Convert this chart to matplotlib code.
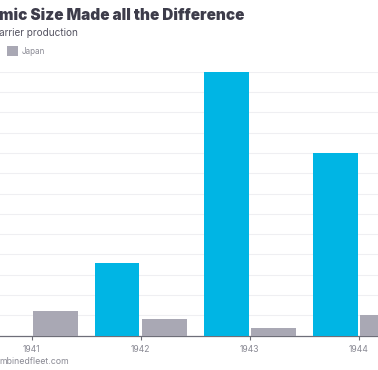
import matplotlib
matplotlib.use("Agg")
import matplotlib.pyplot as plt
import numpy as np

years = ["1941", "1942", "1943", "1944"]
us_carriers = [0, 18, 65, 45]
japan_carriers = [6, 4, 2, 5]

title = "mic Size Made all the Difference"
subtitle = "arrier production"
source = "mbinedfleet.com"

US_COLOR = "#00b5e4"
JP_COLOR = "#a9a8b4"
TEXT_DARK = "#3d3c4a"
TEXT_GRAY = "#8a8a94"

W, H = 378, 370
fig = plt.figure(figsize=(W / 100, H / 100), dpi=100)
ax = fig.add_axes([0, (H - 335.7) / H, 1, (335.7 - 71.7) / H])

x = np.arange(len(years))
bw = 0.41
gap = 0.012
us_bars = ax.bar(x - gap - bw / 2, us_carriers, width=bw, color=US_COLOR, zorder=3, label="US")
jp_bars = ax.bar(x + gap + bw / 2, japan_carriers, width=bw, color=JP_COLOR, zorder=3, label="Japan")

ax.set_xlim(-0.29, 3.174)
ax.set_ylim(0, 65)
ax.set_yticks(np.arange(5, 66, 5))
ax.yaxis.grid(True, color="#efeff2", linewidth=0.8, zorder=0)
ax.tick_params(axis="y", left=False, labelleft=False)
for s in ["top", "right", "left"]:
    ax.spines[s].set_visible(False)
ax.spines["bottom"].set_color("#6e6e78")
ax.spines["bottom"].set_linewidth(0.9)
ax.set_xticks(x)
ax.set_xticklabels(years, fontsize=6.2, color=TEXT_GRAY, family="Inter")
ax.tick_params(axis="x", length=3, width=0.8, color="#6e6e78", pad=3.5)

fig.text(-0.002, 1 - 15 / H, title, fontsize=11, fontweight="black", color=TEXT_DARK,
         family="Inter", ha="left", va="center")
fig.text(-0.002, 1 - 33 / H, subtitle, fontsize=7.2, color="#555462",
         family="Inter", ha="left", va="center")
fig.text(-0.002, 1 - 362 / H, source, fontsize=6.3, color=TEXT_GRAY,
         family="Inter", ha="left", va="center")

leg = fig.legend([jp_bars], ["Japan"], loc="center left",
                 bbox_to_anchor=(-0.5 / W, 1 - 51 / H), frameon=False,
                 handlelength=1.4, handleheight=1.4, handletextpad=0.5,
                 prop={"family": "Inter", "size": 5.8})
for t in leg.get_texts():
    t.set_color(TEXT_GRAY)

fig.savefig("out.png", dpi=100)
